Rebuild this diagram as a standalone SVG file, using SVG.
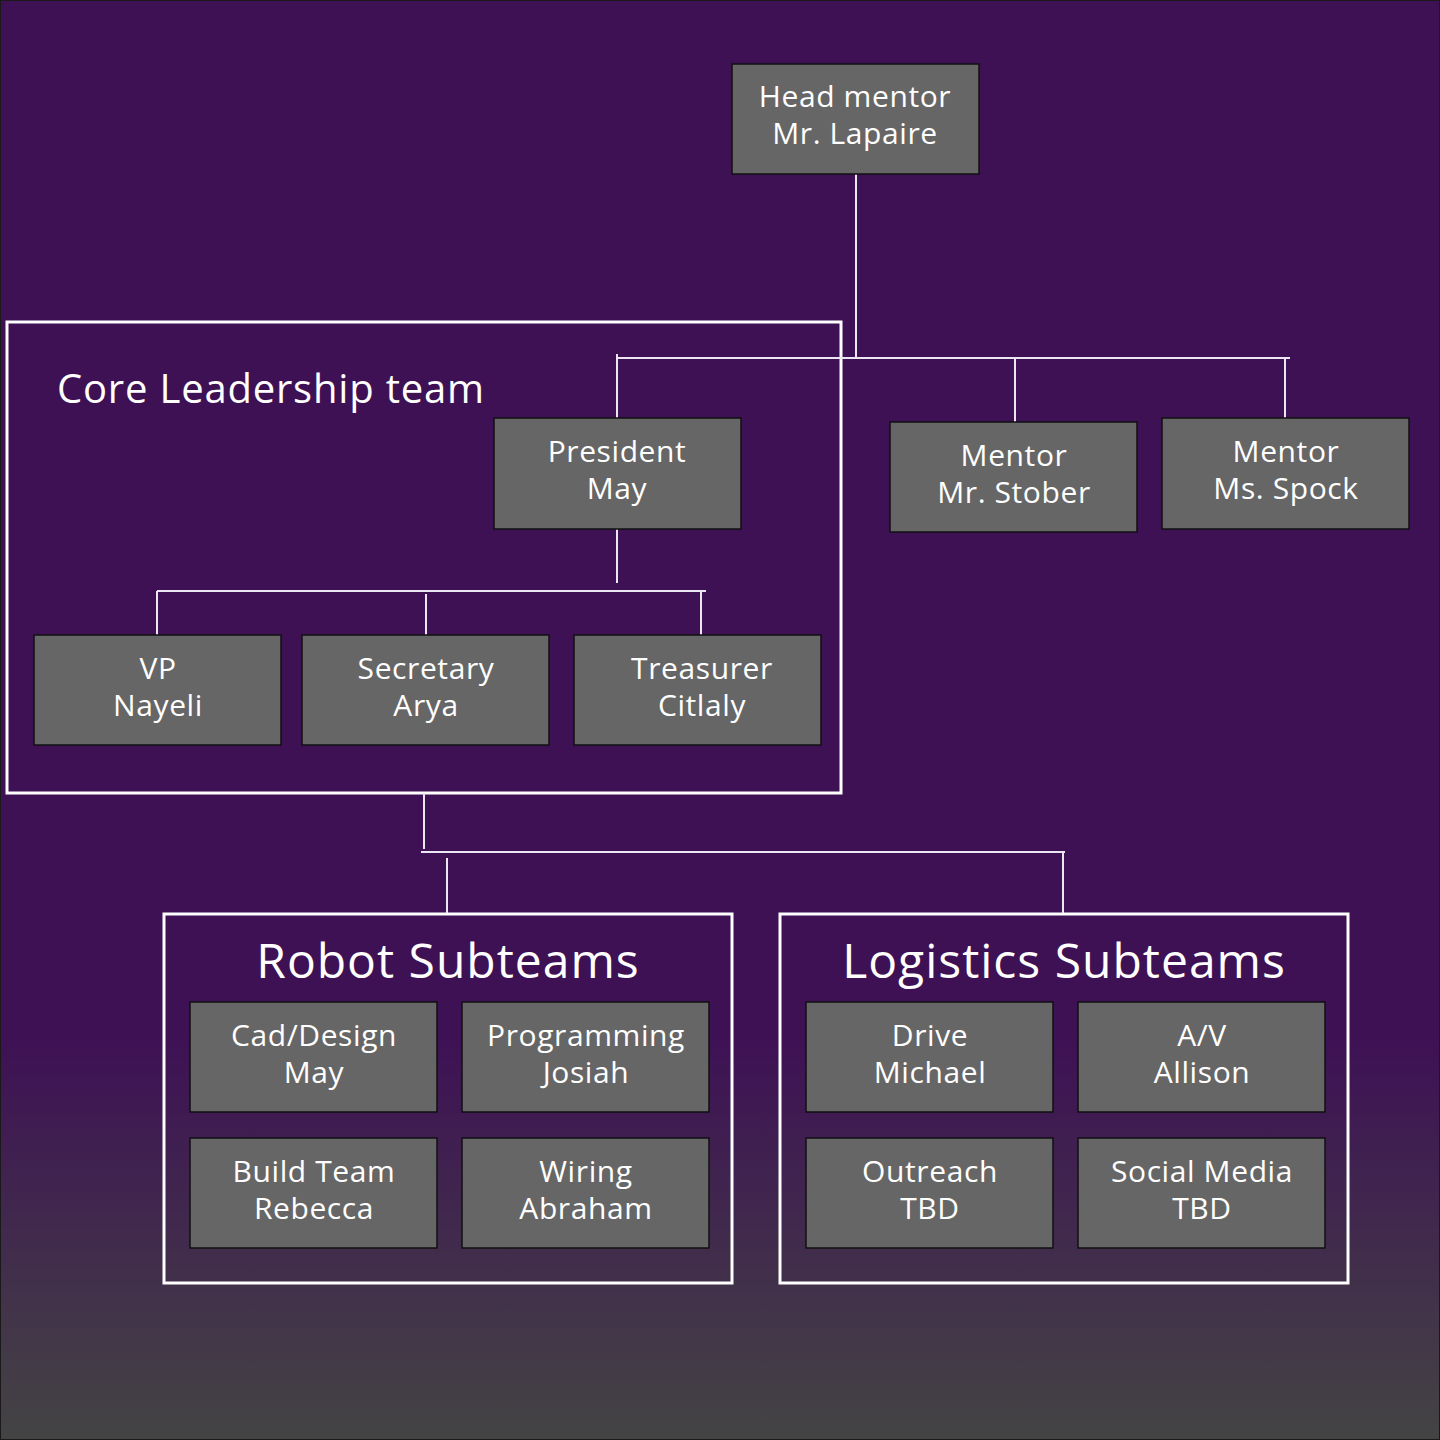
<svg xmlns="http://www.w3.org/2000/svg" width="1440" height="1440" viewBox="0 0 1440 1440">
<defs>
<linearGradient id="bg" x1="0" y1="0" x2="0" y2="1">
<stop offset="0" stop-color="#3e1155"/>
<stop offset="0.72" stop-color="#3e1155"/>
<stop offset="1" stop-color="#444444"/>
</linearGradient>
<style>
.node rect{fill:#666666;stroke:#111111;stroke-width:1.5}
.node text,.title{fill:#ffffff;font-family:"Open Sans","Noto Sans",sans-serif;text-anchor:middle}
.node text{font-size:30px;letter-spacing:0.6px}
.frame{fill:none;stroke:#ffffff;stroke-width:3}
.conn line{stroke:#ece6f2;stroke-width:2}
.title{font-size:48px;letter-spacing:1px}
</style>
</defs>
<rect x="0.5" y="0.5" width="1439" height="1439" fill="url(#bg)" stroke="#1a1a1a" stroke-width="1"/>

<g id="frames">
<rect class="frame" x="7" y="322" width="834" height="471"/>
<rect class="frame" x="164" y="914" width="568" height="369"/>
<rect class="frame" x="780" y="914" width="568" height="369"/>
<text class="title" x="57" y="403" style="text-anchor:start;font-size:40px;letter-spacing:0.8px">Core Leadership team</text>
<text class="title" x="448" y="978">Robot Subteams</text>
<text class="title" x="1064" y="978">Logistics Subteams</text>
</g>

<g id="connectors" class="conn">
<line x1="856" y1="170" x2="856" y2="358"/>
<line x1="617" y1="358" x2="1290" y2="358"/>
<line x1="617" y1="354" x2="617" y2="418"/>
<line x1="1015" y1="358" x2="1015" y2="422"/>
<line x1="1285" y1="358" x2="1285" y2="418"/>
<line x1="617" y1="526" x2="617" y2="583"/>
<line x1="157" y1="591" x2="706" y2="591"/>
<line x1="157" y1="591" x2="157" y2="635"/>
<line x1="426" y1="594" x2="426" y2="635"/>
<line x1="701" y1="591" x2="701" y2="635"/>
<line x1="424" y1="793" x2="424" y2="849"/>
<line x1="421" y1="852" x2="1065" y2="852"/>
<line x1="447" y1="858" x2="447" y2="913"/>
<line x1="1063" y1="852" x2="1063" y2="913"/>
</g>

<g id="head-mentor" class="node"><rect x="732" y="64" width="247" height="110"/><text x="855" y="107">Head mentor</text><text x="855" y="144">Mr. Lapaire</text></g>
<g id="president" class="node"><rect x="494" y="418" width="247" height="111"/><text x="617" y="462">President</text><text x="617" y="499">May</text></g>
<g id="mentor-stober" class="node"><rect x="890" y="422" width="247" height="110"/><text x="1014" y="466">Mentor</text><text x="1014" y="503">Mr. Stober</text></g>
<g id="mentor-spock" class="node"><rect x="1162" y="418" width="247" height="111"/><text x="1286" y="462">Mentor</text><text x="1286" y="499">Ms. Spock</text></g>
<g id="vp" class="node"><rect x="34" y="635" width="247" height="110"/><text x="158" y="679">VP</text><text x="158" y="716">Nayeli</text></g>
<g id="secretary" class="node"><rect x="302" y="635" width="247" height="110"/><text x="426" y="679">Secretary</text><text x="426" y="716">Arya</text></g>
<g id="treasurer" class="node"><rect x="574" y="635" width="247" height="110"/><text x="702" y="679">Treasurer</text><text x="702" y="716">Citlaly</text></g>
<g id="cad" class="node"><rect x="190" y="1002" width="247" height="110"/><text x="314" y="1046">Cad/Design</text><text x="314" y="1083">May</text></g>
<g id="programming" class="node"><rect x="462" y="1002" width="247" height="110"/><text x="586" y="1046">Programming</text><text x="586" y="1083">Josiah</text></g>
<g id="build" class="node"><rect x="190" y="1138" width="247" height="110"/><text x="314" y="1182">Build Team</text><text x="314" y="1219">Rebecca</text></g>
<g id="wiring" class="node"><rect x="462" y="1138" width="247" height="110"/><text x="586" y="1182">Wiring</text><text x="586" y="1219">Abraham</text></g>
<g id="drive" class="node"><rect x="806" y="1002" width="247" height="110"/><text x="930" y="1046">Drive</text><text x="930" y="1083">Michael</text></g>
<g id="av" class="node"><rect x="1078" y="1002" width="247" height="110"/><text x="1202" y="1046">A/V</text><text x="1202" y="1083">Allison</text></g>
<g id="outreach" class="node"><rect x="806" y="1138" width="247" height="110"/><text x="930" y="1182">Outreach</text><text x="930" y="1219">TBD</text></g>
<g id="social" class="node"><rect x="1078" y="1138" width="247" height="110"/><text x="1202" y="1182">Social Media</text><text x="1202" y="1219">TBD</text></g>
</svg>
